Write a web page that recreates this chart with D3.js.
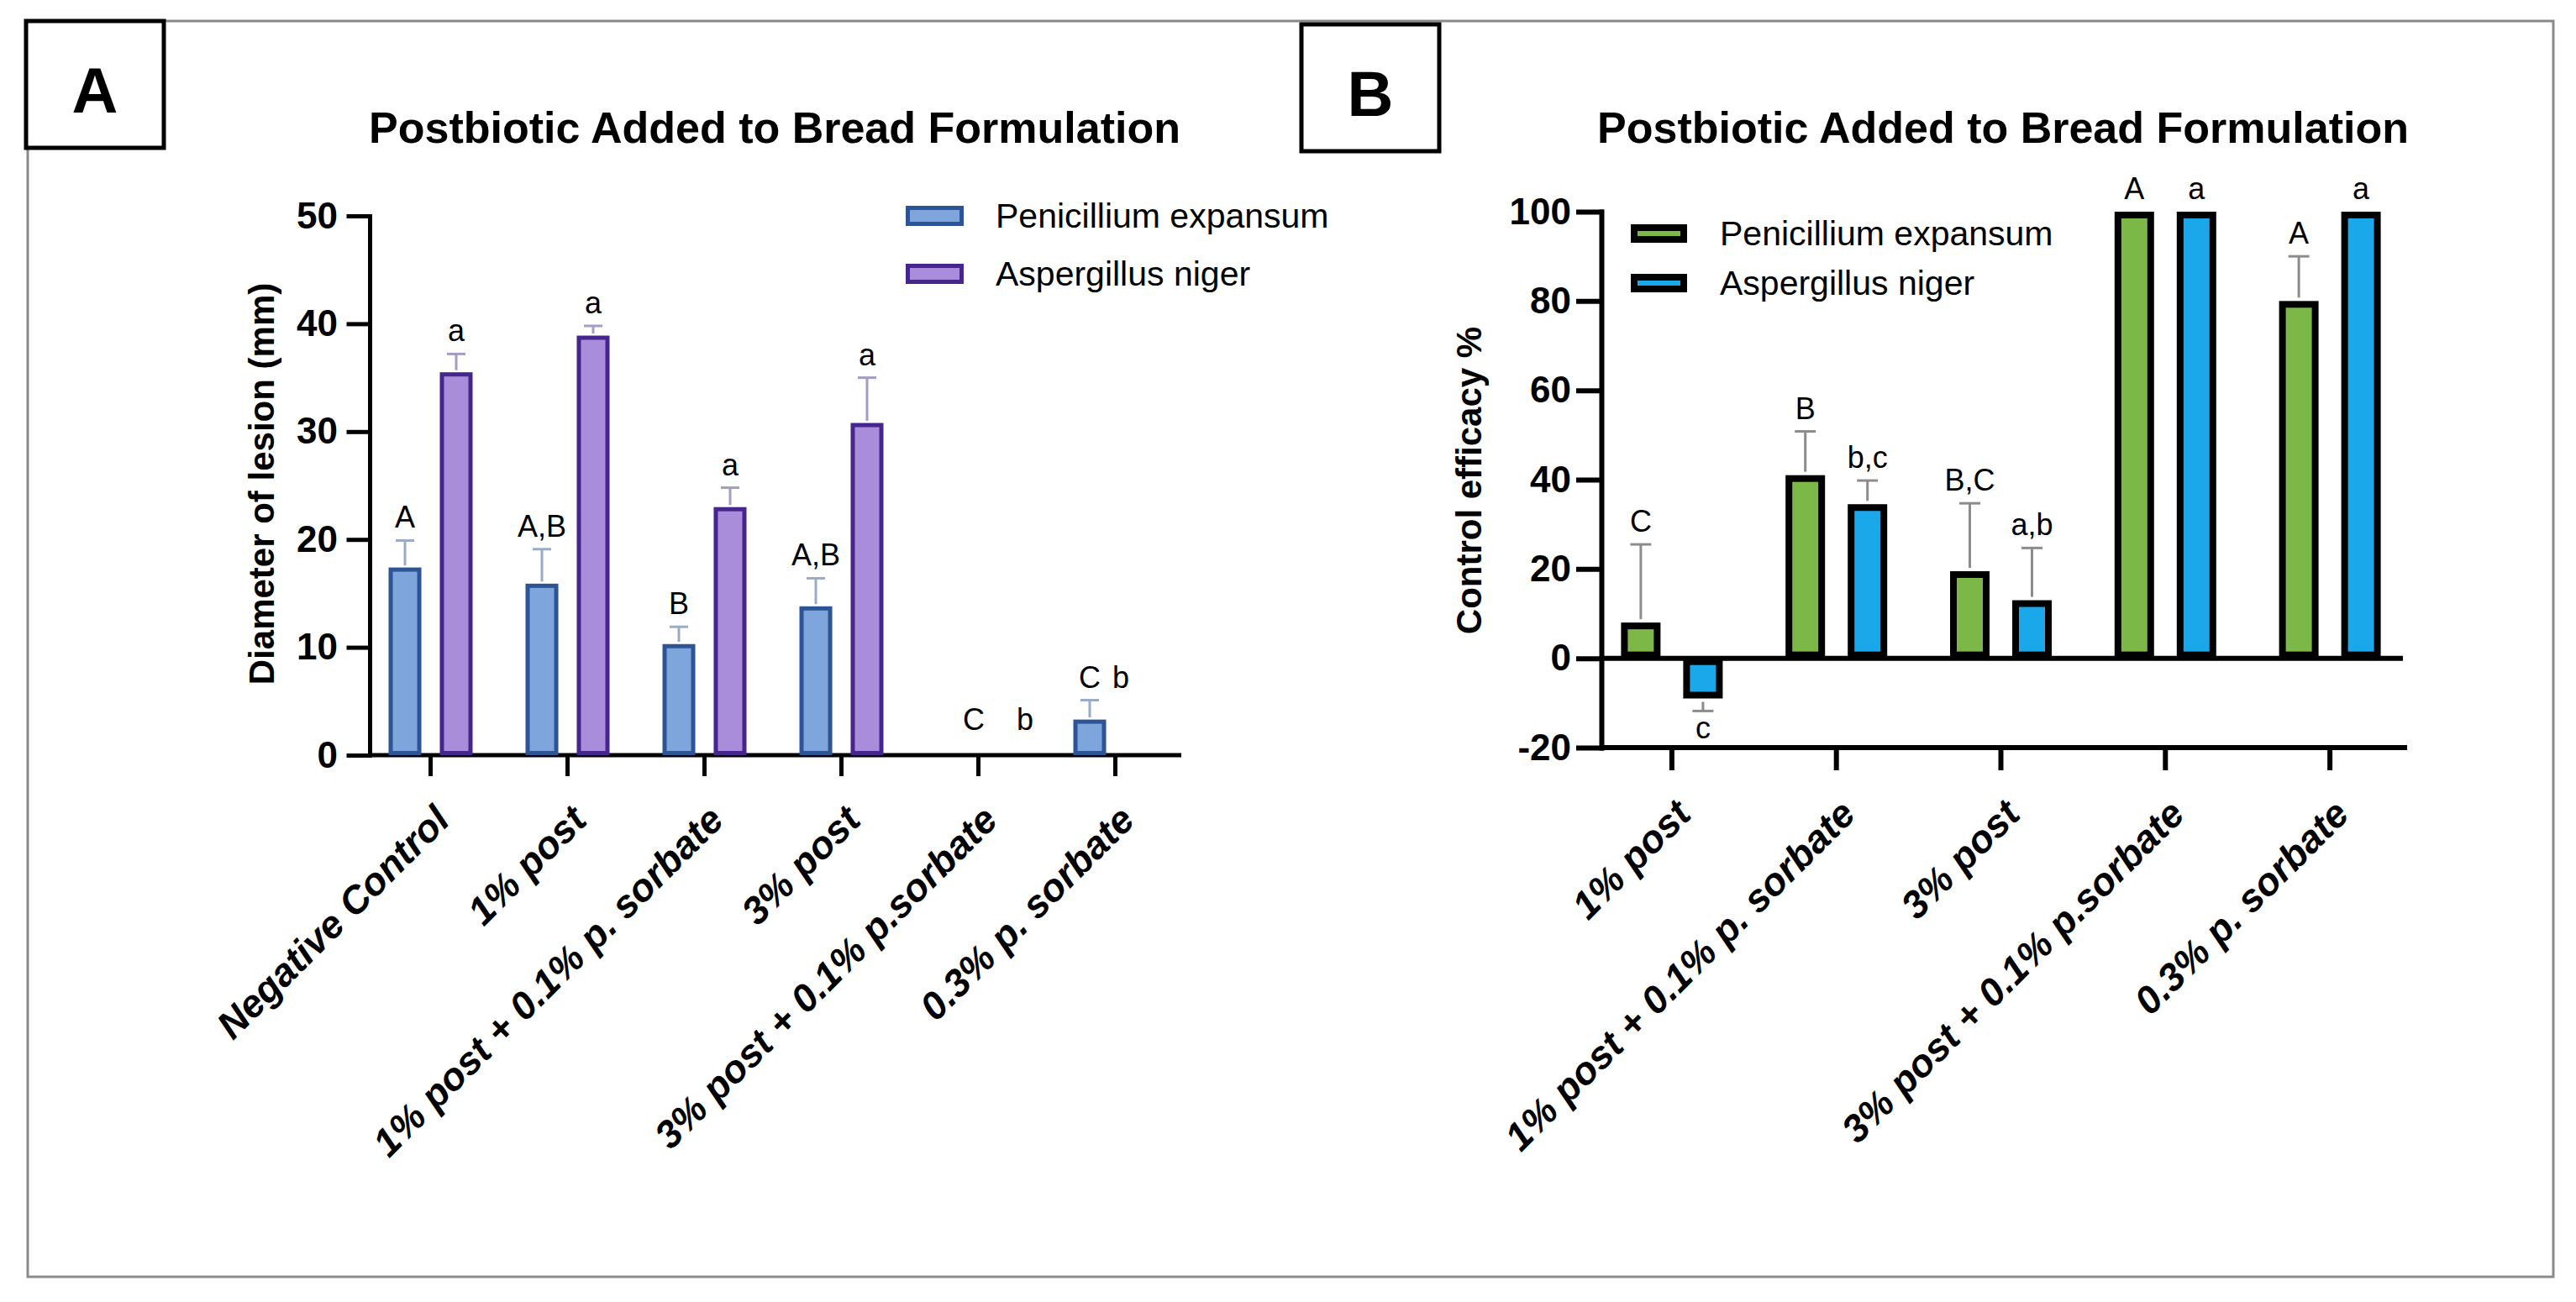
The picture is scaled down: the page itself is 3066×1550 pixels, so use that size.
<!DOCTYPE html>
<html lang="en">
<head>
<meta charset="UTF-8">
<title>Postbiotic Added to Bread Formulation</title>
<script src="https://d3js.org/d3.v7.min.js"></script>
<style>
    body { margin: 0; background: #fff; }
    svg { display: block; font-family: "Liberation Sans", Arial, sans-serif; }
</style>
</head>
<body>
<div id="chart"></div>
<script>
// ---- panel A : lesion diameter ----
const treatmentsA = ["Negative Control", "1% post", "1% post + 0.1% p. sorbate", "3% post", "3% post + 0.1% p.sorbate", "0.3% p. sorbate"];
const lesionPen = [17.4, 15.9, 10.3, 13.8, 0, 3.3];
const lesionPenSd = [2.5, 3.2, 1.6, 2.6, 0, 1.8];
const lesionAsp = [35.5, 38.9, 23.0, 30.8, 0, 0];
const lesionAspSd = [1.7, 0.9, 1.8, 4.2, 0, 0];
const lettersPenA = ["A", "A,B", "B", "A,B", "C", "C"];
const lettersAspA = ["a", "a", "a", "a", "b", "b"];
const ticksA = [0, 10, 20, 30, 40, 50];

// ---- panel B : control efficacy ----
const treatmentsB = ["1% post", "1% post + 0.1% p. sorbate", "3% post", "3% post + 0.1% p.sorbate", "0.3% p. sorbate"];
const efficacyPen = [8, 41, 19.5, 100, 80];
const efficacyPenSd = [17.5, 9.8, 15.2, 0, 10];
const efficacyAsp = [-9, 34.5, 13, 100, 100];
const efficacyAspSd = [2.8, 5.3, 11.7, 0, 0];
const lettersPenB = ["C", "B", "B,C", "A", "A"];
const lettersAspB = ["c", "b,c", "a,b", "a", "a"];
const ticksB = [-20, 0, 20, 40, 60, 80, 100];

const seriesNames = ["Penicillium expansum", "Aspergillus niger"];
const title = "Postbiotic Added to Bread Formulation";

const W = 3066, H = 1550;
const svg = d3.select("#chart").append("svg").attr("width", W).attr("height", H);

// outer frame and panel letters
svg.append("rect").attr("x", 33).attr("y", 25).attr("width", 3006).attr("height", 1495)
    .attr("fill", "none").attr("stroke", "#8a8a8a").attr("stroke-width", 3);

function panelBox(x, y, letter) {
    svg.append("rect").attr("x", x).attr("y", y).attr("width", 164).attr("height", 151)
        .attr("fill", "#fff").attr("stroke", "#000").attr("stroke-width", 5);
    svg.append("text").attr("x", x + 82).attr("y", y + 109).attr("text-anchor", "middle")
        .attr("font-size", 76).attr("font-weight", "bold").text(letter);
}
panelBox(31, 25, "A");
panelBox(1549, 29, "B");

function drawPanel(p) {
    const g = svg.append("g");
    const x = d3.scaleBand().domain(p.cats).range(p.xRange);
    const y = d3.scaleLinear().domain(p.yDomain).range(p.yRange);
    const x1 = d3.scaleBand().domain([0, 1]).range(p.innerRange).paddingInner(p.innerPad);
    const base = y(p.yDomain[0]);
    const y0 = y(0);

    // title
    g.append("text").attr("x", p.titleX).attr("y", 170).attr("text-anchor", "middle")
        .attr("font-size", 52).attr("font-weight", "bold").text(title);

    // y axis
    const ya = g.append("g").attr("transform", `translate(${p.axisX},0)`)
        .call(d3.axisLeft(y).tickValues(p.ticks).tickFormat(d => String(d))
            .tickSize(p.tickLen).tickSizeOuter(0).tickPadding(p.tickPad));
    ya.attr("font-family", null).attr("font-size", null);
    ya.selectAll("path, line").attr("stroke", "#000").attr("stroke-width", p.axisW).attr("stroke-linecap", "square");
    ya.selectAll("text").attr("fill", "#000").attr("font-size", 44).attr("font-weight", "bold");

    // y axis title
    g.append("text")
        .attr("transform", `translate(${p.yTitle[0]},${p.yTitle[1]}) rotate(-90)`)
        .attr("text-anchor", "middle").attr("font-size", 42).attr("font-weight", "bold")
        .text(p.yLabel);

    // x axis
    const xa = g.append("g").attr("transform", `translate(0,${base})`)
        .call(d3.axisBottom(x).tickSize(p.tickLen).tickSizeOuter(0).tickFormat(""));
    xa.select(".domain").remove();
    xa.selectAll("line").attr("stroke", "#000").attr("stroke-width", p.axisW);
    g.append("line").attr("x1", p.axisX).attr("x2", p.xEnd).attr("y1", base).attr("y2", base)
        .attr("stroke", "#000").attr("stroke-width", p.axisW);

    g.selectAll(".xlab").data(p.cats).join("text")
        .attr("transform", d => `translate(${x(d) + x.bandwidth() / 2 + 25},${base + p.tickLen + 55}) rotate(-45)`)
        .attr("text-anchor", "end").attr("font-size", 46).attr("font-weight", "bold")
        .attr("font-style", "italic").text(d => d);

    if (p.zeroEnd) {
        g.append("line").attr("x1", p.axisX).attr("x2", p.zeroEnd).attr("y1", y0).attr("y2", y0)
            .attr("stroke", "#000").attr("stroke-width", p.axisW);
    }

    // bars
    const rows = [];
    p.cats.forEach((c, i) => p.series.forEach((s, k) => {
        const cx = x(c) + x.bandwidth() / 2 + x1(k) + x1.bandwidth() / 2;
        rows.push({ c, i, k, cx, v: s.values[i], sd: s.sd[i], letter: s.letters[i], s });
    }));
    const sw = p.barStroke, bw = x1.bandwidth();

    g.selectAll(".bar").data(rows.filter(r => r.v !== 0)).join("rect")
        .attr("x", r => r.cx - bw / 2 + sw / 2)
        .attr("width", bw - sw)
        .attr("y", r => Math.min(y(r.v), y0) + sw / 2)
        .attr("height", r => Math.abs(y(r.v) - y0) - sw)
        .attr("fill", r => r.s.fill).attr("stroke", r => r.s.stroke).attr("stroke-width", sw);

    // error bars (one sided, away from zero)
    const err = rows.filter(r => r.sd > 0);
    const tip = r => y(r.v + Math.sign(r.v) * r.sd);
    g.selectAll(".err").data(err).join("line")
        .attr("x1", r => r.cx).attr("x2", r => r.cx)
        .attr("y1", r => y(r.v) + (r.v > 0 ? -sw / 2 : sw / 2)).attr("y2", tip)
        .attr("stroke", r => r.s.err).attr("stroke-width", 3);
    g.selectAll(".cap").data(err).join("line")
        .attr("x1", r => r.cx - p.capW / 2).attr("x2", r => r.cx + p.capW / 2)
        .attr("y1", tip).attr("y2", tip)
        .attr("stroke", r => r.s.err).attr("stroke-width", 3);

    // significance letters
    const pos = r => {
        if (r.v > 0) return [r.cx, y(r.v + r.sd) - 15];
        if (r.v < 0) return [r.cx, y(r.v - r.sd) + 33];
        const partner = rows.find(q => q.i === r.i && q.k !== r.k);
        if (r.k === 1 && partner.v > 0) return [partner.cx + 37, y(partner.v + partner.sd) - 15];
        return [r.cx + 25, y0 - 30];
    };
    g.selectAll(".let").data(rows).join("text")
        .attr("x", r => pos(r)[0]).attr("y", r => pos(r)[1])
        .attr("text-anchor", "middle").attr("font-size", 36).text(r => r.letter);

    // legend
    p.series.forEach((s, k) => {
        const ly = p.legend.y + k * p.legend.dy;
        const lsw = p.legend.sw;
        g.append("rect").attr("x", p.legend.x + lsw / 2).attr("y", ly + lsw / 2)
            .attr("width", p.legend.w - lsw).attr("height", p.legend.h - lsw)
            .attr("fill", s.fill).attr("stroke", s.stroke).attr("stroke-width", lsw);
        g.append("text").attr("x", p.legend.tx).attr("y", ly + p.legend.h / 2)
            .attr("dy", "0.35em").attr("font-size", 41).text(s.name);
    });
}

drawPanel({
    cats: treatmentsA,
    xRange: [431, 1409], yDomain: [0, 50], yRange: [899, 257],
    innerRange: [-50, 50], innerPad: 0.36,
    axisX: 440, xEnd: 1406, axisW: 5, tickLen: 25, tickPad: 13,
    ticks: ticksA, titleX: 922, yLabel: "Diameter of lesion (mm)", yTitle: [326, 576],
    barStroke: 5, capW: 22,
    series: [
        { name: seriesNames[0], values: lesionPen, sd: lesionPenSd, letters: lettersPenA, fill: "#7ea5dc", stroke: "#2d5494", err: "#9aabc6" },
        { name: seriesNames[1], values: lesionAsp, sd: lesionAspSd, letters: lettersAspA, fill: "#a98ddb", stroke: "#46268c", err: "#a49cc4" }
    ],
    legend: { x: 1078, y: 245, dy: 69, w: 69, h: 24, sw: 5, tx: 1185 }
});

drawPanel({
    cats: treatmentsB,
    xRange: [1892, 2871], yDomain: [-20, 100], yRange: [890, 252],
    innerRange: [-60.5, 60.5], innerPad: 0.365,
    axisX: 1906, xEnd: 2865, zeroEnd: 2860, axisW: 6, tickLen: 27, tickPad: 9,
    ticks: ticksB, titleX: 2384, yLabel: "Control efficacy %", yTitle: [1763, 572],
    barStroke: 8, capW: 25,
    series: [
        { name: seriesNames[0], values: efficacyPen, sd: efficacyPenSd, letters: lettersPenB, fill: "#7cb848", stroke: "#000", err: "#8c8c8c" },
        { name: seriesNames[1], values: efficacyAsp, sd: efficacyAspSd, letters: lettersAspB, fill: "#1ba8ea", stroke: "#000", err: "#8c8c8c" }
    ],
    legend: { x: 1941, y: 267, dy: 59, w: 67, h: 22, sw: 8, tx: 2047 }
});
</script>
</body>
</html>
